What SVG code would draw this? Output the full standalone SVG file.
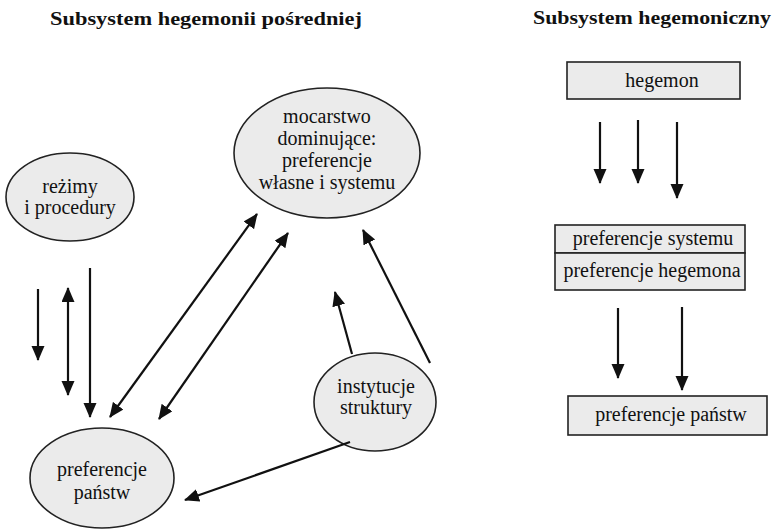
<svg xmlns="http://www.w3.org/2000/svg" width="777" height="531" viewBox="0 0 777 531">
<style>
.title{font-family:'Liberation Serif',serif;font-weight:bold;font-size:19px;fill:#111}
.t{font-family:'Liberation Serif','Times New Roman',serif;font-size:20px;fill:#111;text-anchor:middle}
.n{fill:#ebebeb;stroke:#222;stroke-width:1.6}
.c{stroke:#111;stroke-width:2.2;fill:none;marker-end:url(#ah)}
.d{stroke:#111;stroke-width:2.2;fill:none;marker-end:url(#ah);marker-start:url(#ah)}
</style>
<defs>
<marker id="ah" markerUnits="userSpaceOnUse" markerWidth="16" markerHeight="14" refX="14" refY="6.5" orient="auto-start-reverse">
<path d="M0,0 L15,6.5 L0,13 Z" fill="#111"/>
</marker>
</defs>
<text class="title" x="50" y="25" textLength="312" lengthAdjust="spacingAndGlyphs">Subsystem hegemonii pośredniej</text>
<text class="title" x="533" y="24" textLength="238" lengthAdjust="spacingAndGlyphs">Subsystem hegemoniczny</text>
<g id="mocarstwo">
<ellipse class="n" cx="327" cy="153" rx="93" ry="65"/>
<text class="t" x="327" y="123">mocarstwo</text>
<text class="t" x="327" y="145">dominujące:</text>
<text class="t" x="327" y="167">preferencje</text>
<text class="t" x="327" y="189">własne i systemu</text>
</g>
<g id="rezimy">
<ellipse class="n" cx="70" cy="197" rx="64" ry="44"/>
<text class="t" x="70" y="193">reżimy</text>
<text class="t" x="70" y="214">i procedury</text>
</g>
<g id="instytucje">
<ellipse class="n" cx="375" cy="402" rx="61" ry="49"/>
<text class="t" x="376" y="393">instytucje</text>
<text class="t" x="376" y="414">struktury</text>
</g>
<g id="panstw">
<ellipse class="n" cx="102" cy="478" rx="72" ry="50"/>
<text class="t" x="102" y="476">preferencje</text>
<text class="t" x="102" y="499">państw</text>
</g>
<g id="hegemon">
<rect class="n" x="567" y="62" width="173" height="37"/>
<text class="t" x="662" y="87">hegemon</text>
</g>
<g id="pref-sys-heg">
<rect class="n" x="555" y="225" width="190" height="28"/>
<rect class="n" x="555" y="253" width="190" height="37"/>
<text class="t" x="653" y="245">preferencje systemu</text>
<text class="t" x="652" y="277">preferencje hegemona</text>
</g>
<g id="pref-panstw-box">
<rect class="n" x="568" y="396" width="199" height="39"/>
<text class="t" x="671" y="421">preferencje państw</text>
</g>
<g id="connectors">
<line class="c" x1="38" y1="289" x2="38" y2="360"/>
<line class="d" x1="68" y1="288" x2="68" y2="395"/>
<line class="c" x1="90" y1="268" x2="90" y2="417"/>
<line class="d" x1="257" y1="214" x2="110" y2="417"/>
<line class="d" x1="288" y1="233" x2="159" y2="419"/>
<line class="c" x1="352" y1="354" x2="335" y2="292"/>
<line class="c" x1="430" y1="363" x2="363" y2="230"/>
<line class="c" x1="350" y1="442" x2="185" y2="500"/>
<line class="c" x1="600" y1="122" x2="600" y2="183"/>
<line class="c" x1="638" y1="120" x2="638" y2="183"/>
<line class="c" x1="677" y1="122" x2="677" y2="198"/>
<line class="c" x1="618" y1="308" x2="618" y2="378"/>
<line class="c" x1="682" y1="307" x2="682" y2="390"/>
</g>
</svg>
